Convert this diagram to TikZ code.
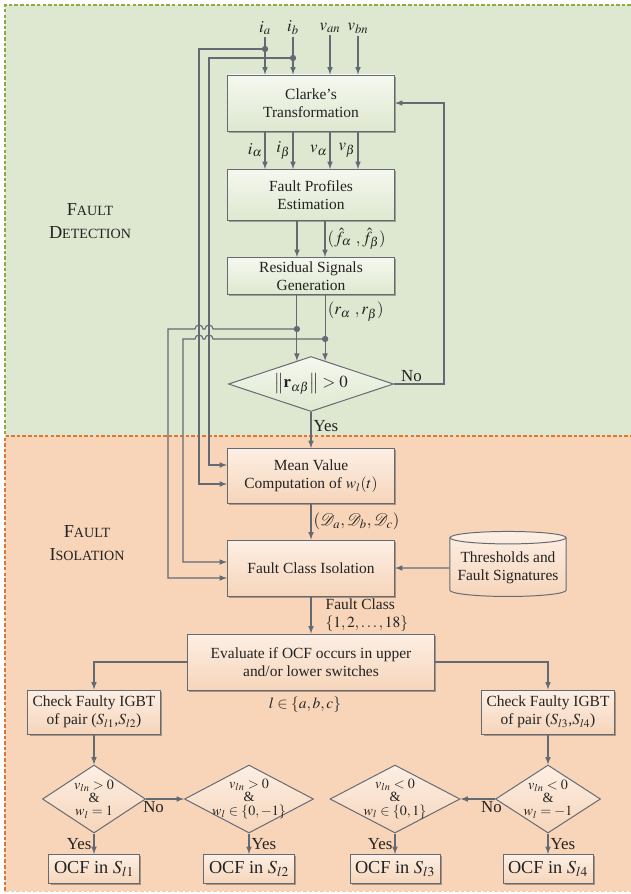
\documentclass[tikz,border=0pt]{standalone}
\usepackage{mathptmx}
\usepackage{fontspec}
\setmainfont{Liberation Serif}
\usetikzlibrary{shapes.geometric, shadows, calc}

\definecolor{detectbg}{RGB}{222,231,207}
\definecolor{detectline}{RGB}{140,172,64}
\definecolor{isolbg}{RGB}{248,213,184}
\definecolor{isolline}{RGB}{228,118,44}
\definecolor{wire}{RGB}{100,106,116}
\definecolor{gboxtop}{RGB}{245,248,239}
\definecolor{gboxbot}{RGB}{222,232,207}
\definecolor{oboxtop}{RGB}{253,239,228}
\definecolor{oboxbot}{RGB}{246,213,186}
\definecolor{inktext}{RGB}{35,35,35}

\newcommand{\fakesc}[2]{{\fontsize{13}{16}\selectfont #1}{\fontsize{10}{16}\selectfont #2}}

\begin{document}
\begin{tikzpicture}[
    x=0.025cm, y=-0.025cm,
    box/.style={rectangle, draw=wire, line width=0.7pt, align=center, inner sep=1.5pt, text=inktext,
        font=\fontsize{11}{13}\selectfont,
        drop shadow={shadow xshift=1.2pt, shadow yshift=-1.2pt, opacity=0.3, fill=black}},
    gbox/.style={box, top color=gboxtop, bottom color=gboxbot, minimum width=4.175cm},
    obox/.style={box, top color=oboxtop, bottom color=oboxbot},
    ocf/.style={obox, minimum width=2.25cm, minimum height=0.725cm, font=\fontsize{13}{15}\selectfont},
    decision/.style={diamond, draw=wire, line width=0.7pt, inner sep=0pt, text=inktext},
    odec/.style={decision, top color=oboxtop, bottom color=oboxbot, minimum height=1.7cm},
    dtext/.style={align=center, inner sep=0pt, text=inktext, font=\fontsize{10}{9.5}\selectfont},
    arrow/.style={->, >=latex, draw=wire, line width=0.8pt},
    dot/.style={circle, fill=wire, inner sep=0pt, minimum size=4.5pt},
    lbl/.style={inner sep=1.5pt, text=inktext, font=\fontsize{12}{14}\selectfont},
    seclbl/.style={align=center, text=inktext, font=\fontsize{10}{16}\selectfont}
]
    \useasboundingbox (0,0) rectangle (631,894);

    % Regions
    \fill[detectbg] (5,5) rectangle (631,436);
    \fill[isolbg] (5,436) rectangle (631,891);
    \draw[detectline, dash pattern=on 2.5pt off 1.5pt, line width=0.8pt] (631,5) -- (5,5) -- (5,436);
    \draw[isolline, dash pattern=on 2.5pt off 1.5pt, line width=0.8pt] (5,891) -- (5,436) -- (631,436);
    \draw[isolline!40, dash pattern=on 2.5pt off 1.5pt, line width=0.6pt] (5,891) -- (631,891);

    \node[seclbl] (detlbl) at (90,221) {\fakesc{F}{AULT}\\\fakesc{D}{ETECTION}};
    \node[seclbl] (isolbl) at (87,543) {\fakesc{F}{AULT}\\\fakesc{I}{SOLATION}};

    % Inputs
    \node[lbl] (ia) at (265,28) {$i_a$};
    \node[lbl] (ib) at (293,28) {$i_b$};
    \node[lbl] (van) at (330,28) {$v_{an}$};
    \node[lbl] (vbn) at (358,28) {$v_{bn}$};

    % Detection blocks
    \node[gbox, minimum height=1.4cm] (clarke) at (311,103) {Clarke's\\Transformation};
    \node[gbox, minimum height=1.275cm] (fpe) at (311,195) {Fault Profiles\\Estimation};
    \node[gbox, minimum height=0.925cm, inner sep=1pt] (rsg) at (311,276) {Residual Signals\\Generation};
    \node[decision, aspect=3, top color=gboxtop, bottom color=gboxbot, minimum width=4.125cm, minimum height=1.375cm,
        font=\fontsize{12}{14}\selectfont] (norm) at (311,384) {$\big\|\mathbf{r}_{\alpha\beta}\big\| > 0$};

    % Isolation blocks
    \node[obox, minimum width=4.175cm, minimum height=1.375cm] (mean) at (311,476) {Mean Value\\Computation of $w_l(t)$};
    \node[obox, minimum width=4.175cm, minimum height=1.4cm] (fci) at (311,568) {Fault Class Isolation};
    \node[cylinder, shape border rotate=90, aspect=0.12, draw=wire, line width=0.7pt, top color=oboxtop, bottom color=oboxbot,
        minimum width=2.9cm, minimum height=1.625cm, align=center, text=inktext, inner sep=1pt,
        font=\fontsize{11}{13}\selectfont] (thr) at (508,568) {Thresholds and\\Fault Signatures};
    \node[obox, minimum width=6.175cm, minimum height=1.4cm] (eval) at (311,662) {Evaluate if OCF occurs in upper\\and/or lower switches};
    \node[lbl, font=\fontsize{11}{13}\selectfont] (lset) at (305,705) {$l \in \{a,b,c\}$};

    \node[obox, minimum width=3.3cm, minimum height=1.1cm] (chkA) at (94,712) {Check Faulty IGBT\\of pair ($S_{l1}$,$S_{l2}$)};
    \node[obox, minimum width=3.3cm, minimum height=1.1cm] (chkB) at (548,712) {Check Faulty IGBT\\of pair ($S_{l3}$,$S_{l4}$)};

    \node[odec, minimum width=2.575cm, label={[dtext]center:{$v_{ln} > 0$\\\&\\$w_l = 1$}}] (dA1) at (94,799) {};
    \node[odec, minimum width=3.225cm, label={[dtext]center:{$v_{ln} > 0$\\\&\\$w_l \in \{0,-1\}$}}] (dA2) at (249,799) {};
    \node[odec, minimum width=3.25cm, label={[dtext]center:{$v_{ln} < 0$\\\&\\$w_l \in \{0,1\}$}}] (dB2) at (395,799) {};
    \node[odec, minimum width=2.625cm, label={[dtext]center:{$v_{ln} < 0$\\\&\\$w_l = -1$}}] (dB1) at (548,799) {};

    \node[ocf] (ocfA1) at (94,869) {OCF in $S_{l1}$};
    \node[ocf] (ocfA2) at (249,869) {OCF in $S_{l2}$};
    \node[ocf] (ocfB2) at (395,869) {OCF in $S_{l3}$};
    \node[ocf] (ocfB1) at (548,869) {OCF in $S_{l4}$};

    % Helper coordinates
    \coordinate (busA) at (199,0);
    \coordinate (busB) at (209,0);
    \coordinate (busC) at (183,0);
    \coordinate (busD) at (168,0);
    \coordinate (fb) at (444,0);
    \coordinate (meanin1) at ($(mean.west)+(0,-11)$);
    \coordinate (meanin2) at ($(mean.west)+(0,8)$);
    \coordinate (fciin1) at ($(fci.west)+(0,-6)$);
    \coordinate (fciin2) at ($(fci.west)+(0,10)$);
    \coordinate (nin1) at ($(norm.north)!0.17!(norm.west)$);
    \coordinate (nin2) at ($(norm.north)!0.17!(norm.east)$);

    % Dots
    \node[dot] (dia) at (ia |- 0,49) {};
    \node[dot] (dib) at (ib |- 0,58) {};
    \node[dot] (dra) at (nin1 |- 0,329) {};
    \node[dot] (drb) at (nin2 |- 0,339) {};

    % Arrows
    \foreach \n in {ia,ib,van,vbn}
        \draw[arrow] (\n) -- (\n |- clarke.north);
    \foreach \n/\s in {ia/i_\alpha, ib/i_\beta, van/v_\alpha, vbn/v_\beta}
        \draw[arrow] (\n |- clarke.south) -- (\n |- fpe.north) node[midway, left, lbl] {$\s$};

    \draw[arrow] ($(fpe.south)+(-14,0)$) -- ($(rsg.north)+(-14,0)$);
    \draw[arrow] ($(fpe.south)+(14,0)$) -- ($(rsg.north)+(14,0)$) node[midway, right, lbl] {$(\hat{f}_\alpha\ ,\hat{f}_\beta)$};

    \draw[arrow] (rsg.south -| nin1) -- (nin1);
    \draw[arrow] (rsg.south -| nin2) -- (nin2) node[pos=0.25, right, lbl] {$(r_\alpha\ , r_\beta)$};

    \draw[arrow] (norm.east) -- node[pos=0.35, above, lbl] {No} (fb |- norm.east) |- (clarke.east);
    \draw[arrow] (norm) -- (mean) node[pos=0.4, right, lbl] {Yes};

    \draw[arrow] (dia.center) -| (busA |- meanin2) -- (meanin2);
    \draw[arrow] (dib.center) -| (busB |- meanin1) -- (meanin1);
    \draw[arrow] (dra.center) -- ($(busB |- dra)+(4,0)$) arc[start angle=0, end angle=-180, radius=4]
        -- ($(busA |- dra)+(4,0)$) arc[start angle=0, end angle=-180, radius=4] -| (busD |- fciin2) -- (fciin2);
    \draw[arrow] (drb.center) -- ($(busB |- drb)+(4,0)$) arc[start angle=0, end angle=-180, radius=4]
        -- ($(busA |- drb)+(4,0)$) arc[start angle=0, end angle=-180, radius=4] -| (busC |- fciin1) -- (fciin1);

    \draw[arrow] (mean) -- (fci) node[midway, right, lbl] {$(\mathcal{D}_a,\mathcal{D}_b,\mathcal{D}_c)$};
    \draw[arrow] (thr) -- (fci);
    \draw[arrow] (fci) -- (eval) node[midway, right, lbl, align=left, xshift=0.3cm, font=\fontsize{11}{13}\selectfont] {Fault Class\\$\{1,2,\ldots,18\}$};

    \draw[arrow] (eval.west) -| (chkA.north);
    \draw[arrow] (eval.east) -| (chkB.north);
    \draw[arrow] (chkA) -- (dA1);
    \draw[arrow] (chkB) -- (dB1);
    \draw[arrow] (dA1) -- (dA2) node[pos=0.2, below, lbl] {No};
    \draw[arrow] (dB1) -- (dB2) node[pos=0.1, below, lbl] {No};
    \draw[arrow] (dA1) -- (ocfA1) node[midway, left, lbl] {Yes};
    \draw[arrow] (dA2) -- (ocfA2) node[midway, right, lbl] {Yes};
    \draw[arrow] (dB2) -- (ocfB2) node[midway, left, lbl] {Yes};
    \draw[arrow] (dB1) -- (ocfB1) node[midway, right, lbl] {Yes};
\end{tikzpicture}
\end{document}
